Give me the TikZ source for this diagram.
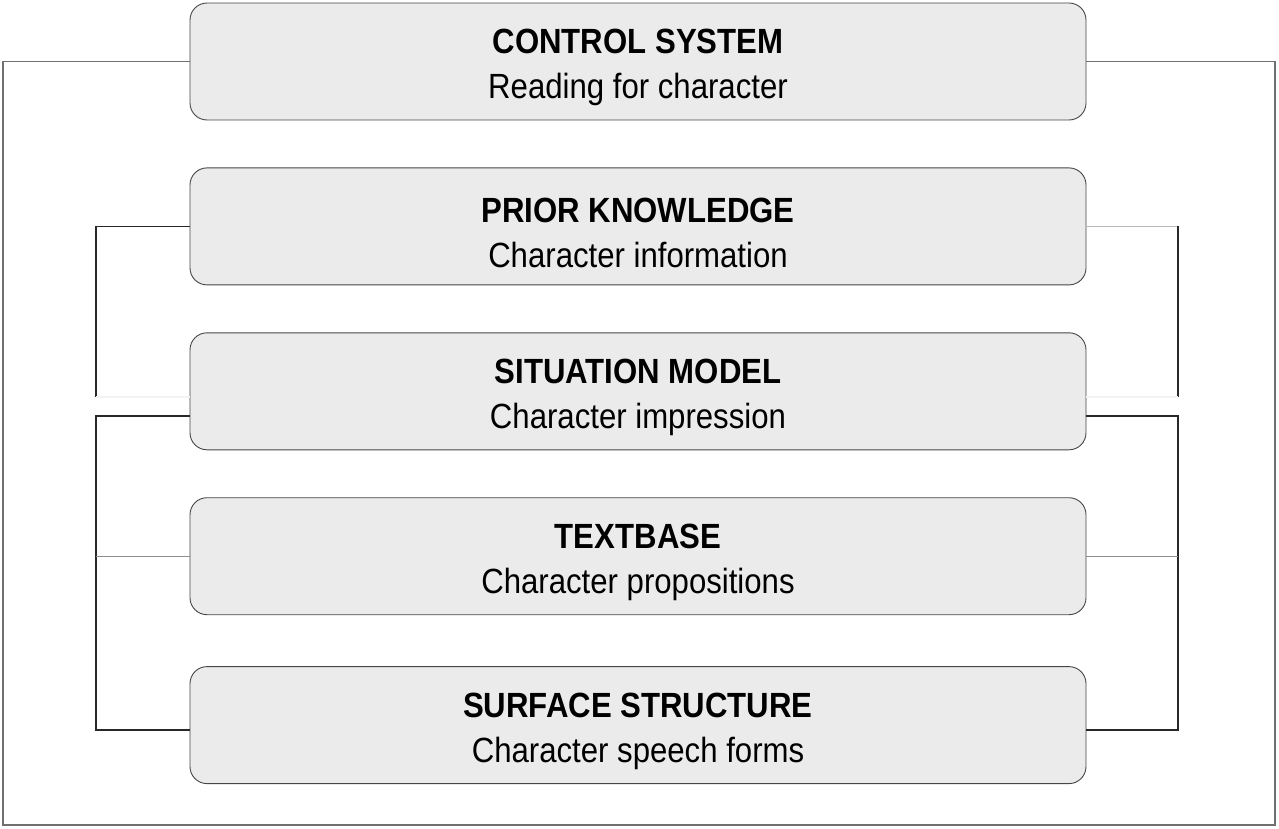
\documentclass[tikz,border=0pt]{standalone}
\usepackage{fontspec}
\setmainfont[FakeStretch=0.89]{Liberation Sans}
\usetikzlibrary{positioning, calc}

\definecolor{boxfill}{RGB}{235,235,235}
\definecolor{boxline}{RGB}{70,70,70}
\definecolor{darkline}{RGB}{40,40,40}
\definecolor{midline}{RGB}{140,140,140}
\definecolor{lightline}{RGB}{185,185,185}
\definecolor{faintline}{RGB}{243,243,243}

\newcommand{\lvltext}[2]{\rule{0pt}{37pt}\textbf{#1}\\#2}

\tikzset{
    level/.style={draw=boxline, fill=boxfill, line width=0.9pt, rounded corners=17pt,
        minimum width=896pt, minimum height=117pt, align=center,
        font=\fontsize{35}{45}\selectfont},
    link/.style={draw=darkline, line width=1.2pt},
    tap/.style={draw=midline, line width=1.2pt},
    outer/.style={draw=midline!80!black, line width=1.2pt},
}

\begin{document}
\begin{tikzpicture}[x=1pt, y=-1pt]
    \useasboundingbox (0,0) rectangle (1279,829);

    \node[level] (ctrl) at (638,61.5) {\lvltext{CONTROL SYSTEM}{Reading for character}};
    \node[level, below=47pt of ctrl] (prior) {\lvltext{PRIOR KNOWLEDGE}{Character information}};
    \node[level, below=47pt of prior] (sit) {\lvltext{SITUATION MODEL}{Character impression}};
    \node[level, below=47pt of sit] (text) {\lvltext{TEXTBASE}{Character propositions}};
    \node[level, below=51pt of text] (surf) {\lvltext{SURFACE STRUCTURE}{Character speech forms}};

    % outer loop
    \coordinate (bl) at (3,825);
    \coordinate (br) at (1275,825);
    \draw[outer] (ctrl.west) -| (bl) -- (br) |- (ctrl.east);

    % left side
    \coordinate (lu) at (96,397);
    \coordinate (ll) at (96,416);
    \coordinate (lb) at (96,730);
    \draw[link] (prior.west) -| (lu);
    \draw[faintline, line width=1.2pt] (lu) -- (lu -| sit.west);
    \draw[link] (ll -| sit.west) -- (ll) -- (lb) -- (lb -| surf.west);
    \draw[tap] (text.west) -- (text.west -| ll);

    % right side
    \coordinate (ru) at (1178,397);
    \coordinate (rl) at (1178,416);
    \coordinate (rb) at (1178,730);
    \draw[lightline, line width=1.2pt] (prior.east) -- (prior.east -| ru);
    \draw[link] (prior.east -| ru) -- (ru);
    \draw[faintline, line width=1.2pt] (ru) -- (ru -| sit.east);
    \draw[link] (rl -| sit.east) -- (rl) -- (rb) -- (rb -| surf.east);
    \draw[tap] (text.east) -- (text.east -| rl);
\end{tikzpicture}
\end{document}
